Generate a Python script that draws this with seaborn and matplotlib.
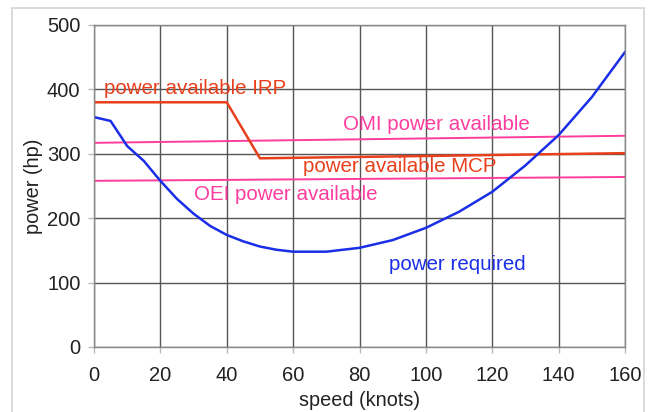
import matplotlib
matplotlib.use("Agg")
import matplotlib.pyplot as plt
from matplotlib.patches import Rectangle
import pandas as pd
import seaborn as sns

# Power required vs. airspeed
speed_req = [0, 5, 10, 15, 20, 25, 30, 35, 40, 45, 50, 55, 60, 70, 80, 90, 100, 110, 120, 130, 140, 150, 160]
power_req = [357, 351, 312, 289, 258, 230, 207, 188, 174, 164, 156, 151, 148, 148, 154, 166, 185, 210, 241, 282, 329, 388, 458]

# Power available, takeoff rating (IRP) and max continuous (MCP)
speed_irp = [0, 40, 50, 160]
power_irp = [380, 380, 293, 301]

# One-engine-inoperative / other-mode power available
speed_omi = [0, 160]
power_omi = [317, 328]
speed_oei = [0, 160]
power_oei = [258, 264]

x_ticks = [0, 20, 40, 60, 80, 100, 120, 140, 160]
y_ticks = [0, 100, 200, 300, 400, 500]

BLUE = "#1a2ee6"
RED = "#e8401c"
PINK = "#ff3d9e"

sns.set_theme(style="white")
plt.rcParams["font.family"] = ["Liberation Sans", "DejaVu Sans"]

fig = plt.figure(figsize=(6.54, 4.12), dpi=100)
fig.patches.append(Rectangle((12 / 654, -0.05), 632 / 654, 1 - 8 / 412 + 0.05,
                             transform=fig.transFigure, fill=False,
                             edgecolor="#d4d4d4", linewidth=1.2))
ax = fig.add_axes([94 / 654, 65 / 412, 531 / 654, 322 / 412])

def series(x, y):
    return pd.DataFrame({"speed": x, "power": y})

sns.lineplot(data=series(speed_omi, power_omi), x="speed", y="power", ax=ax, color=PINK, lw=1.4)
sns.lineplot(data=series(speed_oei, power_oei), x="speed", y="power", ax=ax, color=PINK, lw=1.4)
sns.lineplot(data=series(speed_irp, power_irp), x="speed", y="power", ax=ax, color=RED, lw=1.8)
sns.lineplot(data=series(speed_req, power_req), x="speed", y="power", ax=ax, color=BLUE, lw=1.8)

ax.set_xlim(0, 160)
ax.set_ylim(0, 500)
ax.set_xticks(x_ticks)
ax.set_yticks(y_ticks)
ax.grid(True, color="#555555", linewidth=1.0)
ax.set_axisbelow(True)
for s in ax.spines.values():
    s.set_color("#888888")
    s.set_linewidth(1.0)
ax.tick_params(axis="both", which="both", length=4.3, width=1, color="#bbbbbb",
               labelsize=14.5, labelcolor="#222222", bottom=True, left=True)
ax.tick_params(axis="x", pad=9.5)
ax.tick_params(axis="y", pad=5.5)
ax.set_xlabel("speed (knots)", fontsize=14.3, color="#222222", labelpad=4)
ax.set_ylabel("power (hp)", fontsize=14.3, color="#222222", labelpad=3)

fs = 14.8
ax.text(3, 386, "power available IRP", color=RED, fontsize=fs, va="bottom", ha="left")
ax.text(75, 331, "OMI power available", color=PINK, fontsize=fs, va="bottom", ha="left")
ax.text(63, 266, "power available MCP", color=RED, fontsize=fs, va="bottom", ha="left")
ax.text(30, 222, "OEI power available", color=PINK, fontsize=fs, va="bottom", ha="left")
ax.text(89, 113, "power required", color=BLUE, fontsize=fs, va="bottom", ha="left")

fig.savefig("out.png", dpi=100)
